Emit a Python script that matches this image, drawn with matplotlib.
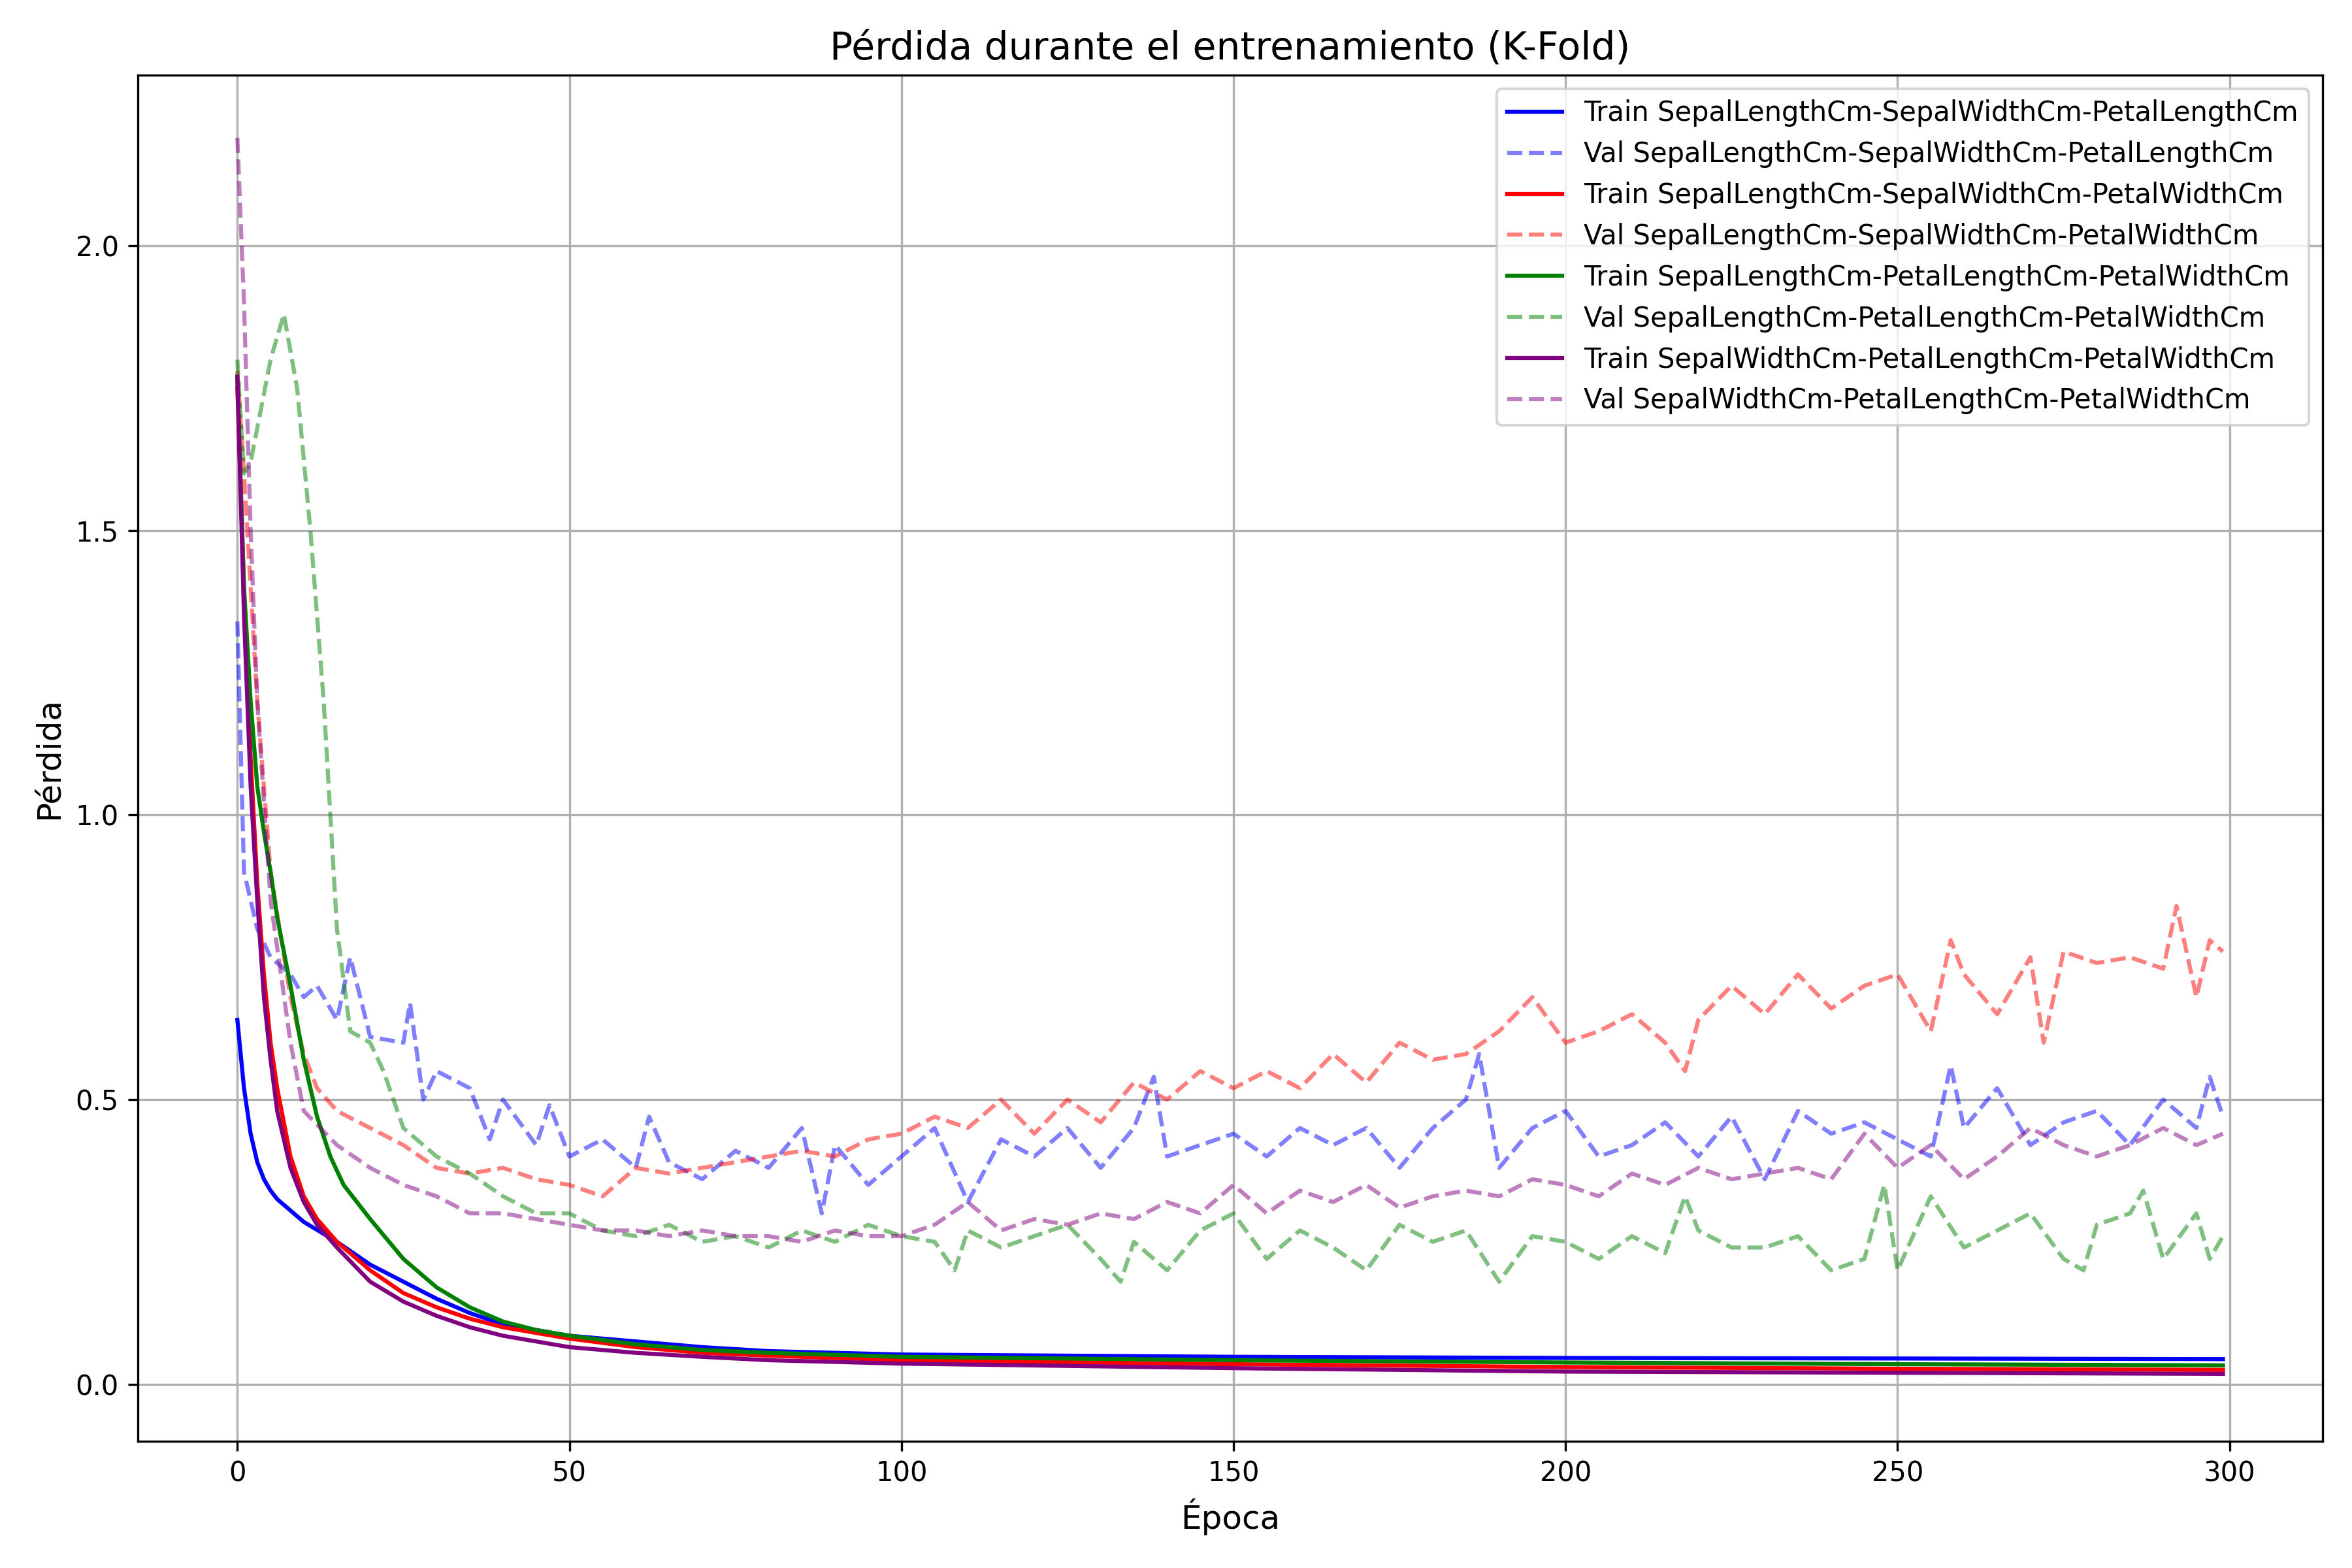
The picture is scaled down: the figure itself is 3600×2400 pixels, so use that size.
import numpy as np
import matplotlib
matplotlib.use("Agg")
import matplotlib.pyplot as plt

# (epoch, loss) pairs
train_a = [(0, .64), (1, .52), (2, .44), (3, .39), (4, .36), (5, .34), (6, .325), (8, .305), (10, .285),
           (15, .25), (20, .21), (25, .18), (30, .15), (35, .125), (40, .105), (45, .095), (50, .085),
           (60, .075), (70, .065), (80, .058), (90, .055), (100, .052), (150, .048), (200, .046),
           (250, .045), (299, .044)]
val_a = [(0, 1.34), (1, .9), (2, .85), (3, .8), (5, .75), (8, .72), (10, .68), (12, .7), (15, .64), (17, .75),
         (20, .61), (25, .6), (26, .67), (28, .5), (30, .55), (35, .52), (38, .43), (40, .5), (45, .42),
         (47, .49), (50, .4), (55, .43), (60, .38), (62, .47), (65, .39), (70, .36), (75, .41), (80, .38),
         (85, .45), (88, .3), (90, .42), (95, .35), (100, .4), (105, .45), (110, .32), (115, .43), (120, .4),
         (125, .45), (130, .38), (135, .45), (138, .54), (140, .4), (145, .42), (150, .44), (155, .4),
         (160, .45), (165, .42), (170, .45), (175, .38), (180, .45), (185, .5), (187, .58), (190, .38),
         (195, .45), (200, .48), (205, .4), (210, .42), (215, .46), (220, .4), (225, .47), (230, .36),
         (235, .48), (240, .44), (245, .46), (250, .43), (255, .4), (258, .56), (260, .45), (265, .52),
         (270, .42), (275, .46), (280, .48), (285, .42), (290, .5), (295, .45), (297, .54), (299, .47)]
train_b = [(0, 1.75), (1, 1.4), (2, 1.1), (3, .88), (4, .72), (5, .6), (6, .52), (8, .4), (10, .33), (12, .29),
           (15, .25), (20, .2), (25, .16), (30, .135), (35, .115), (40, .1), (50, .08), (60, .065),
           (70, .055), (80, .05), (100, .042), (150, .035), (200, .03), (250, .027), (299, .025)]
val_b = [(0, 1.78), (1, 1.6), (2, 1.4), (3, 1.2), (5, .9), (8, .68), (10, .58), (12, .52), (15, .48), (20, .45),
         (25, .42), (30, .38), (35, .37), (40, .38), (45, .36), (50, .35), (55, .33), (60, .38), (65, .37),
         (70, .38), (75, .39), (80, .4), (85, .41), (90, .4), (95, .43), (100, .44), (105, .47), (110, .45),
         (115, .5), (120, .44), (125, .5), (130, .46), (135, .53), (140, .5), (145, .55), (150, .52),
         (155, .55), (160, .52), (165, .58), (170, .53), (175, .6), (180, .57), (185, .58), (190, .62),
         (195, .68), (200, .6), (205, .62), (210, .65), (215, .6), (218, .55), (220, .64), (225, .7),
         (230, .65), (235, .72), (240, .66), (245, .7), (250, .72), (255, .62), (258, .78), (260, .72),
         (265, .65), (270, .75), (272, .6), (275, .76), (280, .74), (285, .75), (290, .73), (292, .84),
         (295, .68), (297, .78), (299, .76)]
train_c = [(0, 1.77), (1, 1.4), (2, 1.2), (3, 1.05), (4, .97), (5, .9), (6, .82), (8, .7), (10, .57), (12, .47),
           (14, .4), (16, .35), (20, .29), (25, .22), (30, .17), (35, .135), (40, .11), (45, .095), (50, .085),
           (60, .07), (70, .06), (80, .055), (100, .048), (150, .042), (200, .038), (250, .035), (299, .033)]
val_c = [(0, 1.8), (1, 1.6), (2, 1.62), (3, 1.68), (5, 1.8), (7, 1.88), (9, 1.75), (11, 1.5), (13, 1.2),
         (15, .8), (17, .62), (20, .6), (22, .55), (25, .45), (28, .42), (30, .4), (35, .37), (40, .33),
         (45, .3), (50, .3), (55, .27), (60, .26), (65, .28), (70, .25), (75, .26), (80, .24), (85, .27),
         (90, .25), (95, .28), (100, .26), (105, .25), (108, .2), (110, .27), (115, .24), (120, .26),
         (125, .28), (130, .22), (133, .18), (135, .25), (140, .2), (145, .27), (150, .3), (155, .22),
         (160, .27), (165, .24), (170, .2), (175, .28), (180, .25), (185, .27), (190, .18), (195, .26),
         (200, .25), (205, .22), (210, .26), (215, .23), (218, .33), (220, .27), (225, .24), (230, .24),
         (235, .26), (240, .2), (245, .22), (248, .35), (250, .2), (255, .33), (260, .24), (265, .27),
         (270, .3), (275, .22), (278, .2), (280, .28), (285, .3), (287, .34), (290, .22), (295, .3),
         (297, .22), (299, .26)]
train_d = [(0, 1.77), (1, 1.35), (2, 1.05), (3, .85), (4, .68), (5, .57), (6, .48), (8, .38), (10, .32),
           (12, .28), (15, .24), (20, .18), (25, .145), (30, .12), (35, .1), (40, .085), (50, .065),
           (60, .055), (70, .048), (80, .042), (100, .036), (150, .028), (200, .022), (250, .02), (299, .018)]
val_d = [(0, 2.19), (1, 1.9), (2, 1.5), (3, 1.2), (5, .85), (8, .6), (10, .48), (15, .42), (20, .38), (25, .35),
         (30, .33), (35, .3), (40, .3), (45, .29), (50, .28), (55, .27), (60, .27), (65, .26), (70, .27),
         (75, .26), (80, .26), (85, .25), (90, .27), (95, .26), (100, .26), (105, .28), (110, .32), (115, .27),
         (120, .29), (125, .28), (130, .3), (135, .29), (140, .32), (145, .3), (150, .35), (155, .3),
         (160, .34), (165, .32), (170, .35), (175, .31), (180, .33), (185, .34), (190, .33), (195, .36),
         (200, .35), (205, .33), (210, .37), (215, .35), (220, .38), (225, .36), (230, .37), (235, .38),
         (240, .36), (245, .44), (250, .38), (255, .42), (260, .36), (265, .4), (270, .45), (275, .42),
         (280, .4), (285, .42), (290, .45), (295, .42), (299, .44)]

combos = ["SepalLengthCm-SepalWidthCm-PetalLengthCm",
          "SepalLengthCm-SepalWidthCm-PetalWidthCm",
          "SepalLengthCm-PetalLengthCm-PetalWidthCm",
          "SepalWidthCm-PetalLengthCm-PetalWidthCm"]
colors = ["blue", "red", "green", "purple"]
series = [(train_a, val_a), (train_b, val_b), (train_c, val_c), (train_d, val_d)]

fig, ax = plt.subplots(figsize=(12, 8))
for name, color, (tr, va) in zip(combos, colors, series):
    tr = np.array(tr)
    va = np.array(va)
    ax.plot(tr[:, 0], tr[:, 1], color=color, linewidth=1.5, label=f"Train {name}")
    ax.plot(va[:, 0], va[:, 1], color=color, linestyle="--", alpha=0.5,
            linewidth=1.5, label=f"Val {name}")

ax.set_title("Pérdida durante el entrenamiento (K-Fold)", fontsize=14)
ax.set_xlabel("Época", fontsize=12)
ax.set_ylabel("Pérdida", fontsize=12)
ax.set_xlim(-15, 314)
ax.set_ylim(-0.1, 2.3)
ax.grid(True)
ax.legend(loc="upper right")
fig.tight_layout()
fig.savefig("out.png", dpi=300)
